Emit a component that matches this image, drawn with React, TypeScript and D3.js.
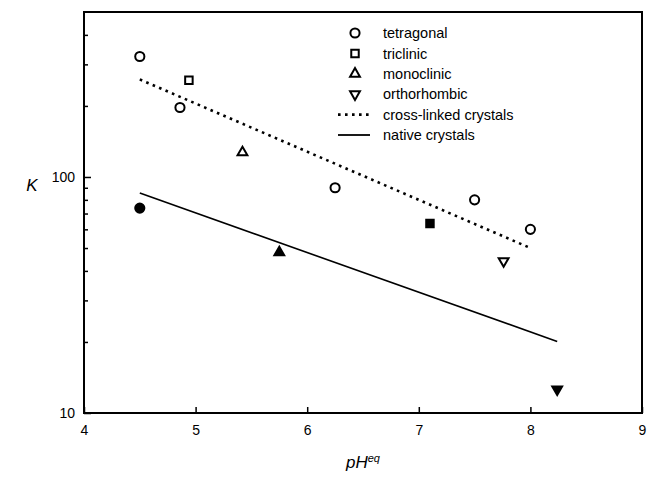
import { useEffect, useRef } from "react";
import * as d3 from "d3";

// tetragonal (open circles)
const tetraPH = [4.5, 4.86, 6.25, 7.5, 8.0];
const tetraK = [324, 197, 90, 80, 60];
// triclinic (squares)
const tricPH = [4.94, 7.1];
const tricK = [257, 63.5];
const tricFilled = [false, true];
// monoclinic (triangle up)
const monoPH = [5.42, 5.75];
const monoK = [127, 47.9];
const monoFilled = [false, true];
// orthorhombic (triangle down)
const orthoPH = [7.76, 8.24];
const orthoK = [44, 12.6];
const orthoFilled = [false, true];
// native tetragonal (filled circle)
const nativeTetraPH = [4.5];
const nativeTetraK = [73.8];

// fitted lines
const crossLinePH = [4.5, 8.0];
const crossLineK = [259, 50];
const nativeLinePH = [4.5, 8.24];
const nativeLineK = [85.5, 20.1];

const xTicks = [4, 5, 6, 7, 8, 9];
const yMajor = [10, 100];
const yMinor = [20, 30, 40, 50, 60, 70, 80, 90, 200, 300, 400];

const legendItems = [
  { label: "tetragonal", kind: "circle" },
  { label: "triclinic", kind: "square" },
  { label: "monoclinic", kind: "up" },
  { label: "orthorhombic", kind: "down" },
  { label: "cross-linked crystals", kind: "dotted" },
  { label: "native crystals", kind: "solid" },
];

const FONT = "'Liberation Sans', Arial, Helvetica, sans-serif";
const INK = "#000";

export default function App() {
  const ref = useRef<SVGSVGElement>(null);

  useEffect(() => {
    if (!ref.current) return;
    const svg = d3.select(ref.current);
    svg.selectAll("*").remove();

    const left = 84, right = 642, top = 12, bottom = 413;
    const x = d3.scaleLinear().domain([4, 9]).range([left, right]);
    const y = d3.scaleLog().domain([10, 500]).range([bottom, top]);

    const g = svg.append("g");

    // frame
    g.append("rect")
      .attr("x", left)
      .attr("y", top)
      .attr("width", right - left)
      .attr("height", bottom - top)
      .attr("fill", "none")
      .attr("stroke", INK)
      .attr("stroke-width", 2);

    // x axis (ticks inside)
    const xa = g.append("g")
      .attr("transform", `translate(0,${bottom})`)
      .call(d3.axisBottom(x).tickValues(xTicks).tickFormat((d) => String(d)).tickSize(-6).tickPadding(12));
    xa.select(".domain").remove();
    xa.selectAll(".tick line").attr("stroke", INK).attr("stroke-width", 1.5);
    xa.selectAll("text").attr("font-family", FONT).attr("font-size", 14).attr("fill", INK);

    // y axis majors
    const ya = g.append("g")
      .attr("transform", `translate(${left},0)`)
      .call(d3.axisLeft(y).tickValues(yMajor).tickFormat((d) => String(d)).tickSize(-7).tickPadding(9));
    ya.select(".domain").remove();
    ya.selectAll(".tick line").attr("stroke", INK).attr("stroke-width", 1.5);
    ya.selectAll("text").attr("font-family", FONT).attr("font-size", 14).attr("fill", INK);

    // y axis minors
    const ym = g.append("g")
      .attr("transform", `translate(${left},0)`)
      .call(d3.axisLeft(y).tickValues(yMinor).tickFormat(() => "").tickSize(-4));
    ym.select(".domain").remove();
    ym.selectAll(".tick line").attr("stroke", INK).attr("stroke-width", 1.5);

    // fitted lines
    const line = d3.line<[number, number]>()
      .x((d) => x(d[0]))
      .y((d) => y(d[1]));
    g.append("path")
      .datum(crossLinePH.map((p, i) => [p, crossLineK[i]] as [number, number]))
      .attr("d", line)
      .attr("fill", "none")
      .attr("stroke", INK)
      .attr("stroke-width", 2.6)
      .attr("stroke-dasharray", "2.6 4.4");
    g.append("path")
      .datum(nativeLinePH.map((p, i) => [p, nativeLineK[i]] as [number, number]))
      .attr("d", line)
      .attr("fill", "none")
      .attr("stroke", INK)
      .attr("stroke-width", 1.6);

    const sym = (kind: string) => {
      if (kind === "circle") return d3.symbol(d3.symbolCircle, 66)();
      if (kind === "square") return d3.symbol(d3.symbolSquare, 56)();
      return d3.symbol(d3.symbolTriangle, 42)();
    };

    const drawMarks = (ph: number[], k: number[], kind: string, filled: boolean[]) => {
      g.selectAll(null)
        .data(ph)
        .join("path")
        .attr("d", sym(kind) as string)
        .attr("transform", (d, i) => `translate(${x(d)},${y(k[i])})${kind === "down" ? " rotate(180)" : ""}`)
        .attr("fill", (_, i) => (filled[i] ? INK : "#fff"))
        .attr("stroke", INK)
        .attr("stroke-width", 2);
    };

    drawMarks(tetraPH, tetraK, "circle", tetraPH.map(() => false));
    drawMarks(nativeTetraPH, nativeTetraK, "circle", nativeTetraPH.map(() => true));
    drawMarks(tricPH, tricK, "square", tricFilled);
    drawMarks(monoPH, monoK, "up", monoFilled);
    drawMarks(orthoPH, orthoK, "down", orthoFilled);

    // legend
    const lg = g.append("g").attr("transform", "translate(0,33)");
    legendItems.forEach((item, i) => {
      const yy = i * 20.4;
      if (item.kind === "dotted" || item.kind === "solid") {
        lg.append("line")
          .attr("x1", 338)
          .attr("x2", 370)
          .attr("y1", yy)
          .attr("y2", yy)
          .attr("stroke", INK)
          .attr("stroke-width", item.kind === "dotted" ? 2.6 : 1.8)
          .attr("stroke-dasharray", item.kind === "dotted" ? "2.6 4.4" : null);
      } else {
        lg.append("path")
          .attr("d", sym(item.kind) as string)
          .attr("transform", `translate(355,${yy})${item.kind === "down" ? " rotate(180)" : ""}`)
          .attr("fill", "#fff")
          .attr("stroke", INK)
          .attr("stroke-width", 2);
      }
      lg.append("text")
        .attr("x", 383)
        .attr("y", yy)
        .attr("dy", "0.36em")
        .attr("font-family", FONT)
        .attr("font-size", 14.5)
        .attr("fill", INK)
        .text(item.label);
    });

    // axis titles
    svg.append("text")
      .attr("x", 32)
      .attr("y", 191)
      .attr("text-anchor", "middle")
      .attr("font-family", FONT)
      .attr("font-size", 17)
      .attr("font-style", "italic")
      .attr("fill", INK)
      .text("K");

    const xt = svg.append("text")
      .attr("x", 363)
      .attr("y", 468)
      .attr("text-anchor", "middle")
      .attr("font-family", FONT)
      .attr("font-size", 17)
      .attr("font-style", "italic")
      .attr("fill", INK);
    xt.append("tspan").text("pH");
    xt.append("tspan").attr("font-size", 11).attr("dy", -6).text("eq");
  }, []);

  return (
    <svg
      ref={ref}
      width={649}
      height={478}
      style={{ position: "absolute", left: 0, top: 0, background: "#fff" }}
    />
  );
}
